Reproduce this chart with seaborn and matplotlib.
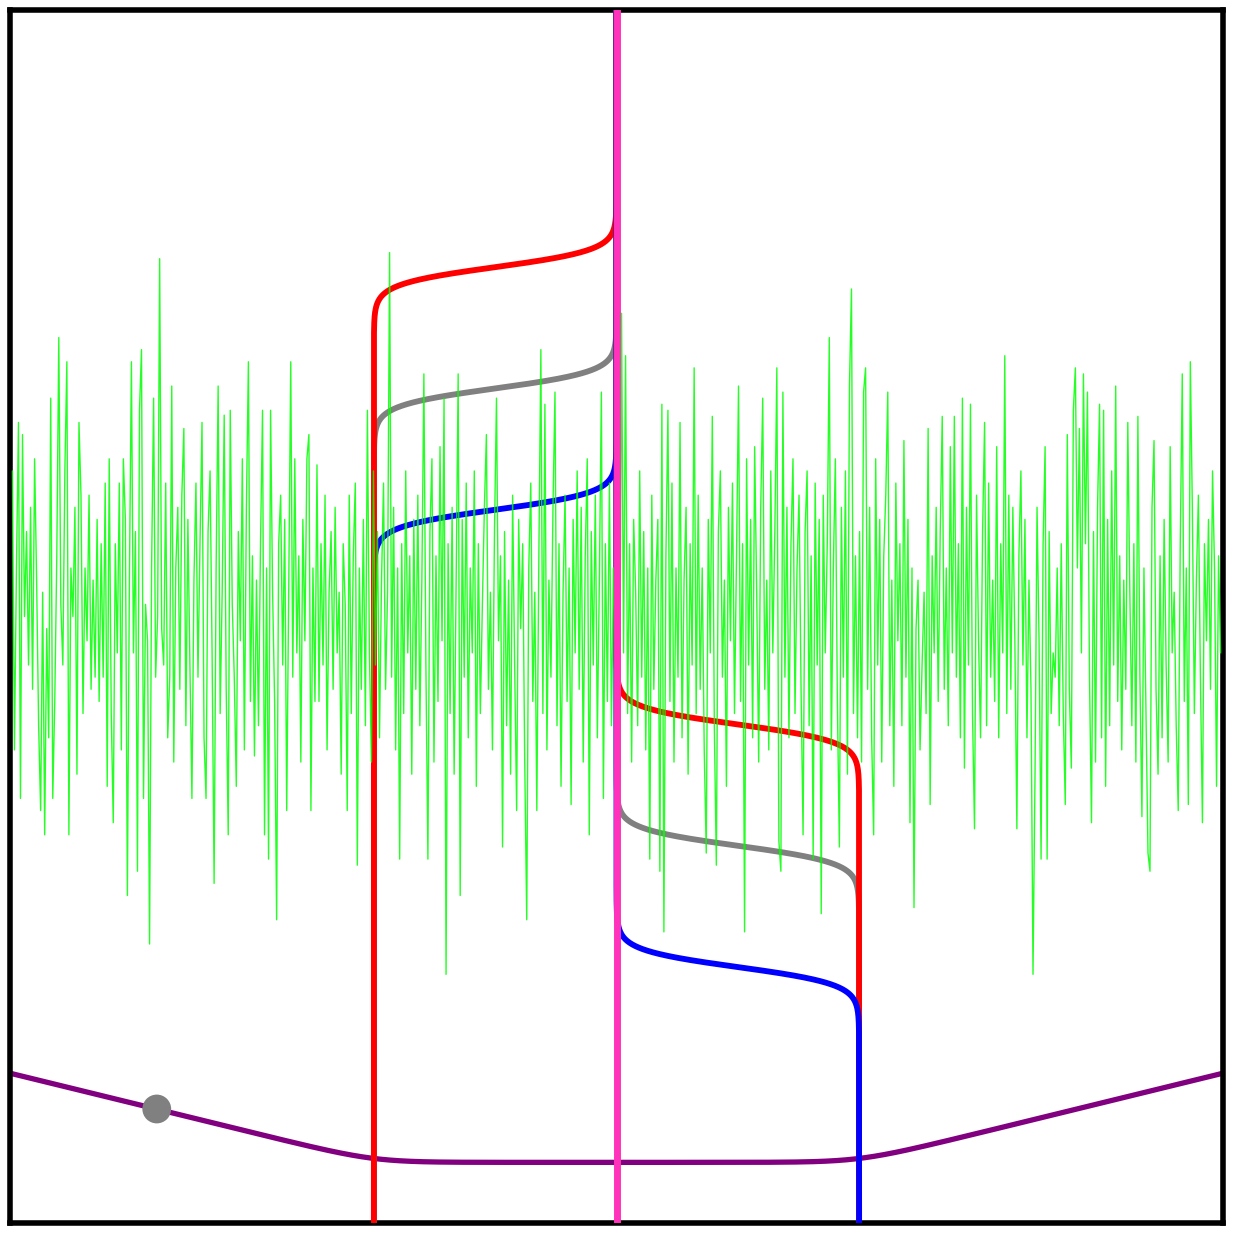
import numpy as np
import matplotlib
matplotlib.use("Agg")
import matplotlib.pyplot as plt
import seaborn as sns


# -----------------------------
# DATA
# -----------------------------
# green noisy signal, left to right across the whole frame
noise = [
    1.2, -1.1, 0.4, 1.6, -1.5, 1.5, 0.0, 0.7, -0.4, 0.9, -0.6, 1.3, 0.3, -0.9, -1.6, 0.2, -1.8, -0.1, -1.0, 1.8,
    -1.5, -0.7, 0.5, 2.3, 0.1, -0.4, 1.2, 2.1, -1.8, 0.4, 0.0, 0.9, -1.3, 1.6, 1.0, -0.8, 0.4, -0.2, 1.0, -0.6,
    0.3, -0.5, 0.8, -0.7, 0.6, -0.5, 1.1, -1.4, 1.3, -0.8, -1.7, 0.6, -0.3, 1.1, -1.1, 1.3, 0.8, -2.3, 0.3, 2.1,
    -0.3, 0.7, -2.1, 1.7, 2.2, -1.5, 0.1, -0.2, -2.7, 0.4, 1.8, -0.5, 0.0, 2.95, -0.1, -0.4, 1.1, -1.0, -0.5, 1.9,
    -1.2, 0.4, 0.9, -0.6, 1.0, 1.55, -0.9, 0.8, -0.4, -1.5, 0.3, 1.1, -0.5, 0.6, 1.6, -1.0, -1.5, 0.7, 1.2, -0.3,
    -2.2, 0.4, 1.9, -0.8, 0.2, 1.66, -0.6, -1.8, 1.7, 0.1, -0.5, -1.4, 0.7, -0.2, 1.3, -1.1, 0.9, 2.1, -0.7, 0.5,
    -1.15, 0.3, -0.9, 0.6, 1.7, -1.8, 0.4, -2.0, 1.7, 0.2, -0.7, -2.5, 0.6, 1.0, -0.4, 0.8, -1.6, 0.3, 2.1, -0.5,
    1.3, -0.3, 0.5, -1.2, 0.8, -0.2, 1.3, 1.5, -1.6, 0.4, -0.7, 1.25, -0.7, 0.6, -0.4, 1.0, -1.1, 0.2, 0.7, -0.6,
    0.9, -0.3, 0.2, -1.3, 0.6, 0.1, -1.6, 1.0, -0.8, 0.5, 1.1, -2.05, 0.4, -0.6, 0.8, -0.9, 1.7, -0.3, -1.2, 1.2,
    -0.4, 0.7, -1.0, 0.3, 1.1, -0.6, 0.2, 3.0, -0.5, 0.9, -1.1, 0.4, -2.0, 0.6, -0.8, 1.2, -0.3, 0.5, -1.3, 0.8,
    -0.6, 1.0, -0.9, 0.3, 2.0, -0.4, -2.0, 0.7, 1.3, -1.2, 0.5, -0.7, 1.4, -0.2, 1.8, -2.95, 0.6, -0.8, 0.9, -1.3,
    0.3, 2.0, -2.3, 0.8, -0.5, 1.1, -1.0, 0.4, -0.3, 1.2, -1.4, 0.6, -0.8, 0.1, 0.9, 1.5, -0.6, 0.2, -1.1, 0.7,
    1.8, -0.2, 0.5, -1.9, 0.7, -0.9, 0.3, -1.3, 1.0, -0.4, -1.6, 0.8, -0.1, 0.6, -1.2, -2.5, 0.4, 1.1, -0.7, 0.2,
    -1.6, 0.5, 2.2, -0.8, 1.75, -1.1, 0.3, -0.5, 0.9, 1.85, -0.9, 0.6, -1.4, 0.2, 1.0, -0.7, 0.4, -1.55, 0.8, -0.3,
    1.2, -0.6, 0.9, -1.2, 0.5, 1.3, -1.8, 0.7, -0.4, 1.0, -1.0, 0.3, 1.85, -1.5, 0.6, -0.7, 1.1, -0.9, 0.4, -0.2,
    0.9, -1.4, 2.5, -0.3, 2.15, -0.8, 0.6, -1.2, 0.8, 0.2, -0.9, 1.2, -0.5, 0.7, -1.1, 0.4, -2.0, 1.0, -0.6, 0.3,
    0.8, -2.1, 1.75, -2.6, 0.5, 1.7, -0.7, 1.1, -1.2, 0.4, -0.5, 1.6, -1.0, 0.3, 0.9, -1.3, 0.6, -0.4, 2.05, -0.8,
    1.0, -0.6, 0.4, -1.1, -1.95, 0.8, -0.3, 1.65, -0.9, -2.05, 0.7, 1.2, -0.5, 0.3, -1.4, 0.9, -0.2, 1.1, -0.8, 0.5,
    1.9, -0.7, 0.6, -2.6, 1.3, -0.4, 0.8, -1.0, 1.4, 0.2, -1.2, 0.9, 1.8, -0.6, 0.3, -1.1, 1.2, -0.3, 0.7, 2.05,
    -1.85, -2.1, 1.85, -0.5, 0.9, -1.0, 0.6, 1.3, -0.8, 0.4, 1.0, -0.6, -1.8, 0.7, 1.2, -0.9, 0.5, -2.0, 1.1, -0.4,
    0.8, -2.45, 1.0, -0.3, 0.6, 2.3, -1.1, 0.4, 1.3, -0.7, -1.9, 0.9, -0.5, 1.2, -1.3, 1.9, 2.7, -0.8, 0.5, -1.0,
    0.7, -1.2, 1.85, 2.05, -0.6, 0.9, -1.0, -1.8, 1.3, -0.4, 0.8, -1.2, 0.5, 1.0, 1.85, -0.9, 0.3, -1.4, 1.1, -0.2,
    0.6, -0.9, 1.45, -0.5, 0.8, -1.7, 0.4, -2.4, -0.1, 0.3, -1.1, -0.4, 0.2, -0.8, 1.55, -1.55, 0.5, -0.3, 0.9, -0.7,
    0.7, 1.65, -0.6, 0.4, -0.9, 1.4, -0.3, 1.65, -0.5, 0.6, -1.0, 1.8, -1.25, 0.9, -0.4, 1.75, -0.8, -1.75, 1.0, -0.2,
    -1.0, 0.7, 1.6, -0.9, 1.1, -0.5, 0.3, -0.7, 1.4, -1.0, 0.6, -0.3, 2.15, -0.8, 1.0, -0.6, 0.9, -0.2, -1.75, 0.5,
    1.2, -0.4, 0.8, -1.0, 0.3, -0.6, -2.95, -1.3, 0.9, -0.2, -2.0, 0.6, 1.4, -2.0, 0.7, -0.8, -0.3, -0.5, 0.4, -0.9,
    0.6, -0.8, -1.55, 1.5, -0.6, -1.25, 1.7, 2.05, 0.4, 1.55, -0.3, 2.0, 0.6, 1.85, -0.5, -1.7, 0.7, -1.2, 0.9, 1.75,
    -1.0, 1.7, -1.4, 0.8, -0.9, 1.2, -0.4, 1.9, -0.7, 0.5, -1.1, 0.3, -0.6, 1.6, 0.2, -0.9, 0.6, -1.2, 1.65, -0.5,
    -1.65, 0.4, -0.8, -1.95, -2.1, 0.9, 1.45, -0.6, -1.3, 0.5, -1.0, 0.8, -0.4, -1.2, 1.4, -0.3, 0.2, -0.9, -1.6, 0.6,
    2.0, -0.7, 0.4, -1.55, 2.1, 0.9, -0.8, 0.3, 1.0, -0.5, -1.7, 0.6, -0.2, 0.8, -0.6, 1.2, 0.4, -1.4, 0.5, -0.3,
]

# step curves: colour, level of the left step, level of the right step
step_colors = ["red", "gray", "blue"]
left_levels = [2.88, 1.88, 0.88]
right_levels = [-0.89, -1.89, -2.89]
step_width = 0.07

# drawing order (first is at the back)
left_order = ["blue", "gray", "red"]
right_order = ["gray", "red", "blue"]

# outer edges of the steps and the centre line
left_edge = -2.0
right_edge = 2.0
center_x = 0.0

# smooth hinge curve at the bottom
hinge_floor = -4.5
hinge_slope = 0.245
hinge_soft = 0.19

# grey marker on the hinge curve
dot_x = [-3.79]
dot_y = [-4.06]


# -----------------------------
# FIGURE
# -----------------------------
sns.set_theme(style="white")

fig = plt.figure(figsize=(12.33, 12.33), dpi=100)
ax = fig.add_axes([0.0081, 0.0081, 0.9838, 0.9838])

# hinge curve
hx = np.linspace(-5.2, 5.2, 800)
hy = hinge_floor + hinge_slope * hinge_soft * (
    np.logaddexp(0, (hx - right_edge) / hinge_soft)
    + np.logaddexp(0, (left_edge - hx) / hinge_soft)
)
sns.lineplot(x=hx, y=hy, color="purple", linewidth=3.8, estimator=None,
             sort=False, ax=ax, zorder=2)

# step curves, parameterised along y
ys = np.linspace(-5.3, 5.3, 4000)
left_map = dict(zip(step_colors, left_levels))
right_map = dict(zip(step_colors, right_levels))

for col in left_order:
    t = 1 / (1 + np.exp(-(ys - left_map[col]) / step_width))
    xs = left_edge + (center_x - left_edge) * t
    sns.lineplot(x=xs, y=ys, color=col, linewidth=4.2, estimator=None,
                 sort=False, ax=ax, zorder=3)

for col in right_order:
    t = 1 / (1 + np.exp(-(ys - right_map[col]) / step_width))
    xs = right_edge + (center_x - right_edge) * t
    sns.lineplot(x=xs, y=ys, color=col, linewidth=4.2, estimator=None,
                 sort=False, ax=ax, zorder=3)

# green noise on top of the curves
nx = np.linspace(-4.98, 4.98, len(noise))
sns.lineplot(x=nx, y=noise, color="#00ff00", linewidth=1.0, alpha=0.85,
             estimator=None, sort=False, ax=ax, zorder=4)

# centre line
ax.axvline(center_x, color="#ff33bb", linewidth=5.0, zorder=5)

# marker
sns.scatterplot(x=dot_x, y=dot_y, color="gray", s=430, edgecolor="none",
                ax=ax, zorder=6)

ax.set_xlim(-5, 5)
ax.set_ylim(-5, 5)
ax.set_xticks([])
ax.set_yticks([])
ax.set_xlabel("")
ax.set_ylabel("")

for side in ax.spines.values():
    side.set_visible(True)
    side.set_color("black")
    side.set_linewidth(4)

fig.savefig("out.png", dpi=100)
